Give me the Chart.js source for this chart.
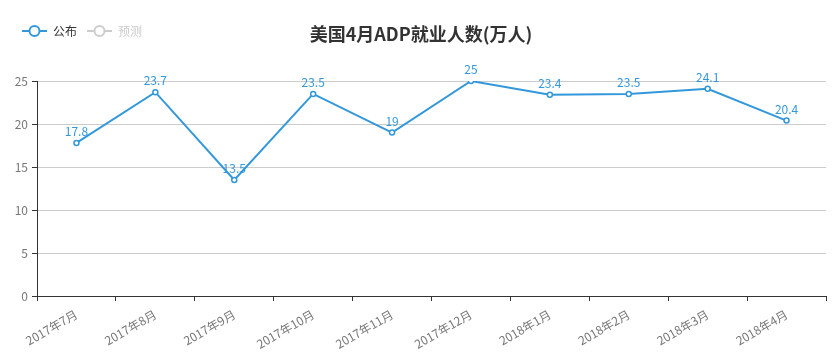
<!DOCTYPE html>
<html>
<head>
<meta charset="utf-8">
<script src="https://cdn.jsdelivr.net/npm/chart.js@4/dist/chart.umd.min.js"></script>
<style>
  html, body { margin: 0; padding: 0; background: #fff; }
  #wrap { width: 839px; height: 355px; position: relative; }
</style>
</head>
<body>
<div id="wrap"><canvas id="chart-line-1"></canvas></div>
<script>
// data
var chartTitle = '美国4月ADP就业人数(万人)';
var months = ['2017年7月', '2017年8月', '2017年9月', '2017年10月', '2017年11月',
              '2017年12月', '2018年1月', '2018年2月', '2018年3月', '2018年4月'];
var published = [17.8, 23.7, 13.5, 23.5, 19, 25, 23.4, 23.5, 24.1, 20.4];
var seriesNames = ['公布', '预测'];   // second one is switched off in the legend
var yTicks = [0, 5, 10, 15, 20, 25];

var FONT = '"Microsoft YaHei", "Noto Sans CJK SC", "Noto Sans", sans-serif';
var blue = '#3398DB';

// value labels above each point + title + legend
var extras = {
    id: 'extras',
    afterDatasetsDraw: function (chart) {
        var ctx = chart.ctx;
        var meta = chart.getDatasetMeta(0);
        ctx.save();
        ctx.font = '12px ' + FONT;
        ctx.fillStyle = blue;
        ctx.textAlign = 'center';
        ctx.textBaseline = 'alphabetic';
        meta.data.forEach(function (pt, i) {
            ctx.fillText(String(published[i]), pt.x, pt.y - 7);
        });
        ctx.restore();
    },
    afterDraw: function (chart) {
        var ctx = chart.ctx;
        ctx.save();
        // title
        ctx.font = 'bold 18px ' + FONT;
        ctx.fillStyle = '#333';
        ctx.textAlign = 'center';
        ctx.textBaseline = 'middle';
        ctx.fillText(chartTitle, 421, 34);

        // legend
        var x = 22;
        seriesNames.forEach(function (name, i) {
            var col = i === 0 ? blue : '#ccc';
            ctx.strokeStyle = col;
            ctx.lineWidth = 2;
            ctx.beginPath();
            ctx.moveTo(x, 31); ctx.lineTo(x + 25, 31);
            ctx.stroke();
            ctx.fillStyle = '#fff';
            ctx.beginPath();
            ctx.arc(x + 12.5, 31, 5, 0, Math.PI * 2);
            ctx.fill(); ctx.stroke();
            ctx.font = '12px ' + FONT;
            ctx.fillStyle = i === 0 ? '#333' : '#ccc';
            ctx.textAlign = 'left';
            ctx.textBaseline = 'middle';
            ctx.fillText(name, x + 31, 31);
            x += 31 + ctx.measureText(name).width + 10;
        });
        ctx.restore();
    }
};

var ctx = document.getElementById('chart-line-1').getContext('2d');
var myLineChart = new Chart(ctx, {
    type: 'line',
    data: {
        labels: months,
        datasets: [{
            label: seriesNames[0],
            data: published,
            borderColor: blue,
            borderWidth: 2,
            backgroundColor: '#fff',
            pointBorderColor: blue,
            pointBackgroundColor: '#fff',
            pointRadius: 2.5,
            pointBorderWidth: 1.5,
            tension: 0,
            fill: false
        }]
    },
    options: {
        responsive: true,
        maintainAspectRatio: false,
        animation: false,
        layout: { padding: { top: 81, right: 13, left: 0, bottom: 0 } },
        plugins: {
            legend: { display: false },
            title: { display: false },
            tooltip: { enabled: false }
        },
        scales: {
            x: {
                offset: true,
                grid: { offset: true, drawOnChartArea: false, tickLength: 5, color: '#333' },
                border: { color: '#333', width: 1 },
                ticks: {
                    color: '#777',
                    font: { size: 12, family: FONT },
                    minRotation: 30, maxRotation: 30,
                    autoSkip: false,
                    padding: 6
                },
                afterFit: function (s) { s.height = 59; }
            },
            y: {
                min: 0, max: 25,
                afterBuildTicks: function (s) { s.ticks = yTicks.map(function (v) { return { value: v }; }); },
                grid: { color: '#ccc', tickLength: 5, tickColor: '#333' },
                border: { color: '#333', width: 1 },
                ticks: { color: '#777', font: { size: 12, family: FONT }, padding: 4 },
                afterFit: function (s) { s.width = 37; }
            }
        }
    },
    plugins: [extras]
});
</script>
</body>
</html>
